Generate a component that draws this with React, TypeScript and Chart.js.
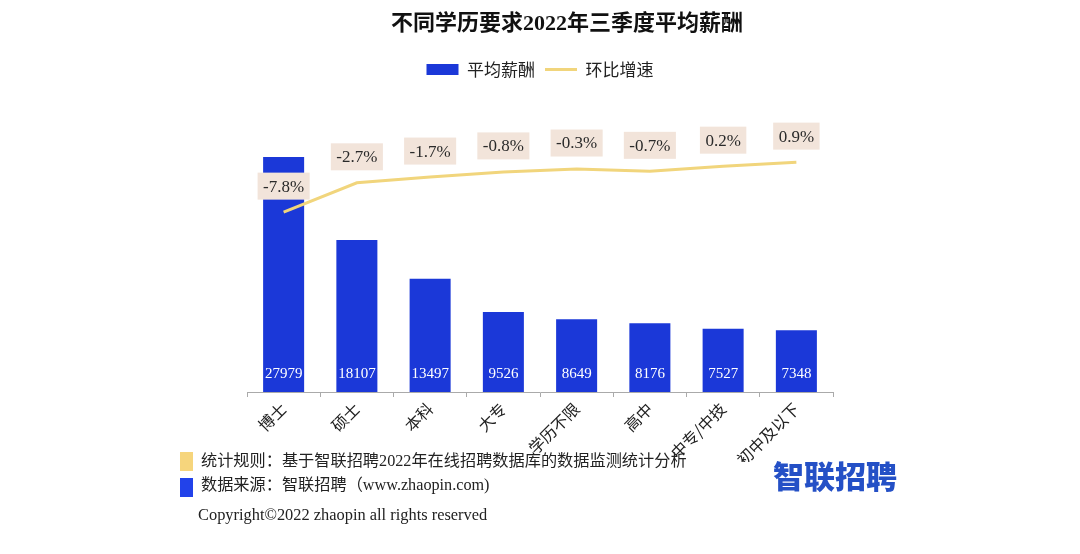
import React, { useEffect, useRef } from 'react';
import { Chart, registerables } from 'chart.js';

Chart.register(...registerables);

const titleText = '不同学历要求2022年三季度平均薪酬';
const categories = ['博士', '硕士', '本科', '大专', '学历不限', '高中', '中专/中技', '初中及以下'];
const salaryValues = [27979, 18107, 13497, 9526, 8649, 8176, 7527, 7348];
const growthValues = [-7.8, -2.7, -1.7, -0.8, -0.3, -0.7, 0.2, 0.9];
const seriesNames = ['平均薪酬', '环比增速'];
const noteLines = [
  '统计规则：基于智联招聘2022年在线招聘数据库的数据监测统计分析',
  '数据来源：智联招聘（www.zhaopin.com)',
];
const copyrightText = 'Copyright©2022 zhaopin all rights reserved';
const logoText = '智联招聘';

const BAR_COLOR = '#1b38d8';
const LINE_COLOR = '#f1d57c';
const LABEL_BG = '#f2e4da';
const CJK = '"Noto Sans CJK SC", "Noto Sans", sans-serif';
const SERIF_CJK = '"Liberation Serif", "Noto Sans CJK SC", serif';

const valueLabelPlugin = {
  id: 'valueLabels',
  afterDatasetsDraw(chart: any) {
    const ctx = chart.ctx;
    ctx.save();
    ctx.textAlign = 'center';
    ctx.textBaseline = 'middle';
    const barMeta = chart.getDatasetMeta(0);
    ctx.font = '15px "Liberation Serif", serif';
    ctx.fillStyle = '#ffffff';
    barMeta.data.forEach((el: any, i: number) => {
      ctx.fillText(String(salaryValues[i]), el.x, el.base - 18);
    });
    const lineMeta = chart.getDatasetMeta(1);
    ctx.font = '17px "Liberation Serif", serif';
    lineMeta.data.forEach((pt: any, i: number) => {
      const txt = growthValues[i].toFixed(1) + '%';
      const w = ctx.measureText(txt).width + 11;
      const h = 27;
      const cy = pt.y - 26;
      ctx.fillStyle = LABEL_BG;
      ctx.fillRect(pt.x - w / 2, cy - h / 2, w, h);
      ctx.fillStyle = '#2a2a2a';
      ctx.fillText(txt, pt.x, cy + 1);
    });
    ctx.restore();
  },
};

export default function App() {
  const canvasRef = useRef<HTMLCanvasElement | null>(null);

  useEffect(() => {
    if (!canvasRef.current) return;
    const chart = new Chart(canvasRef.current, {
      type: 'bar',
      data: {
        labels: categories,
        datasets: [
          {
            type: 'bar',
            label: seriesNames[0],
            data: salaryValues,
            backgroundColor: BAR_COLOR,
            borderWidth: 0,
            yAxisID: 'y',
            order: 2,
            categoryPercentage: 1,
            barPercentage: 0.56,
          } as any,
          {
            type: 'line',
            label: seriesNames[1],
            data: growthValues,
            borderColor: LINE_COLOR,
            backgroundColor: LINE_COLOR,
            borderWidth: 3,
            pointRadius: 0,
            tension: 0,
            yAxisID: 'y1',
            order: 1,
          } as any,
        ],
      },
      options: {
        responsive: false,
        animation: false,
        layout: { padding: { left: 247, right: 247, top: 51, bottom: 92 } },
        plugins: {
          title: { display: false },
          tooltip: { enabled: false },
          legend: {
            position: 'top',
            labels: {
              usePointStyle: true,
              pointStyleWidth: 32,
              boxHeight: 11,
              padding: 10,
              color: '#222',
              font: { size: 17, family: CJK },
              generateLabels: (c: any) =>
                c.data.datasets.map((ds: any, i: number) => ({
                  text: ds.label,
                  datasetIndex: i,
                  hidden: false,
                  fillStyle: i === 0 ? BAR_COLOR : LINE_COLOR,
                  strokeStyle: i === 0 ? BAR_COLOR : LINE_COLOR,
                  lineWidth: i === 0 ? 0 : 3,
                  pointStyle: i === 0 ? 'rect' : 'line',
                  fontColor: '#222',
                })),
            },
          },
        },
        scales: {
          x: {
            offset: true,
            grid: {
              display: true,
              drawOnChartArea: false,
              drawTicks: true,
              tickLength: 5,
              color: '#aaaaaa',
              offset: true,
            },
            border: { display: true, color: '#aaaaaa' },
            ticks: {
              maxRotation: 45,
              minRotation: 45,
              color: '#222',
              padding: 2,
              font: { size: 16, family: CJK },
            },
            afterFit: (s: any) => {
              s.height = 70;
            },
          },
          y: { display: false, min: 0, max: 36200 },
          y1: { display: false, position: 'right', min: -39.1, max: 13.8 },
        },
      },
      plugins: [valueLabelPlugin],
    } as any);
    return () => chart.destroy();
  }, []);

  const base: React.CSSProperties = { position: 'absolute', whiteSpace: 'nowrap', margin: 0 };

  return (
    <div style={{ position: 'absolute', left: 0, top: 0, width: 1080, height: 554, background: '#fff', overflow: 'hidden' }}>
      <canvas ref={canvasRef} width={1080} height={554} style={{ position: 'absolute', left: 0, top: 0 }} />
      <div
        style={{
          ...base,
          left: 567,
          top: 12,
          transform: 'translateX(-50%)',
          fontSize: 22,
          lineHeight: '22px',
          fontWeight: 700,
          color: '#111',
          fontFamily: SERIF_CJK,
        }}
      >
        {titleText}
      </div>
      <div style={{ ...base, left: 180, top: 452, width: 13, height: 19, background: '#f6d57c' }} />
      <div style={{ ...base, left: 180, top: 478, width: 13, height: 19, background: '#2242ea' }} />
      <div style={{ ...base, left: 201, top: 451, fontSize: 16.2, lineHeight: '20px', color: '#222', fontFamily: SERIF_CJK }}>
        {noteLines[0]}
      </div>
      <div style={{ ...base, left: 201, top: 475, fontSize: 16.2, lineHeight: '20px', color: '#222', fontFamily: SERIF_CJK }}>
        {noteLines[1]}
      </div>
      <div style={{ ...base, left: 198, top: 505, fontSize: 16.4, lineHeight: '20px', color: '#222', fontFamily: '"Liberation Serif", serif' }}>
        {copyrightText}
      </div>
      <div
        style={{
          ...base,
          left: 773,
          top: 459,
          fontSize: 31,
          lineHeight: '31px',
          fontWeight: 900,
          color: '#2450c6',
          fontFamily: CJK,
        }}
      >
        {logoText}
      </div>
    </div>
  );
}
